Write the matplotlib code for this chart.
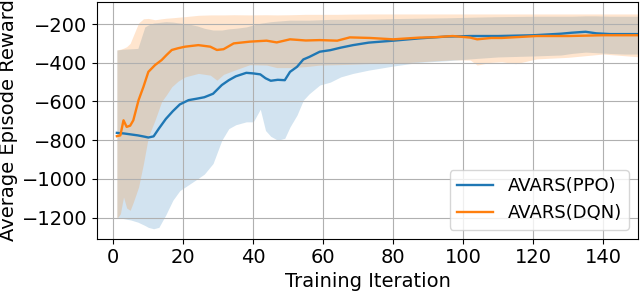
import numpy as np
import matplotlib
matplotlib.use("Agg")
from matplotlib import pyplot as plt

# AVARS(PPO) - mean and spread
ppo_x = [1, 3, 5, 7, 9, 10, 11.5, 13, 15, 17, 19, 21.5, 24, 26, 28.5, 31, 33, 35, 38, 40,
         42, 43.5, 45, 47, 49, 50.5, 52.5, 54.3, 56, 59, 62, 65, 68.5, 73, 80, 87.5, 95,
         102, 110, 120, 128, 131, 135, 138, 142, 146, 150]
ppo_mean = [-762, -765, -770, -775, -782, -786, -780, -740, -690, -650, -615, -593, -585,
            -578, -560, -515, -490, -470, -452, -455, -460, -480, -493, -488, -490, -447,
            -421, -383, -370, -343, -335, -322, -309, -296, -286, -274, -265, -262, -262,
            -258, -250, -245, -240, -248, -252, -252, -252]
ppo_lo = [-1197, -1205, -1212, -1223, -1240, -1250, -1257, -1250, -1185, -1110, -1060,
          -1030, -1000, -975, -920, -800, -740, -720, -705, -705, -640, -750, -780, -800,
          -790, -731, -670, -593, -560, -515, -500, -473, -455, -438, -417, -398, -390,
          -380, -370, -365, -360, -352, -345, -348, -352, -355, -355]
ppo_hi = [-334, -330, -328, -326, -215, -205, -195, -192, -188, -190, -195, -200, -210,
          -222, -231, -231, -225, -222, -215, -205, -196, -192, -188, -185, -182, -180,
          -180, -180, -180, -178, -176, -176, -175, -175, -172, -170, -168, -165, -162,
          -160, -160, -160, -158, -158, -160, -160, -160]

# AVARS(DQN) - mean and spread
dqn_x = [1, 2, 2.9, 3.8, 4.8, 5.7, 7.2, 8.6, 10, 11.9, 13.8, 15.2, 16.7, 18.5, 20.5, 24.3,
         27.7, 29.6, 31.5, 34.4, 39, 43.8, 46.7, 50.5, 55, 59, 64, 67.6, 73.4, 80, 87.6,
         92, 97, 102, 104, 108, 111, 115, 121, 130, 140, 150]
dqn_mean = [-779, -775, -697, -731, -725, -697, -593, -524, -447, -412, -386, -360, -334,
            -325, -317, -309, -317, -334, -330, -300, -291, -286, -295, -279, -285, -283,
            -286, -269, -272, -279, -270, -268, -262, -270, -279, -272, -272, -268, -262,
            -262, -258, -258]
dqn_lo = [-1205, -1180, -1093, -1150, -1162, -1120, -1042, -921, -783, -697, -600, -565,
          -524, -495, -473, -455, -464, -490, -460, -440, -410, -412, -425, -425, -420,
          -412, -410, -408, -404, -404, -395, -390, -385, -386, -412, -398, -395, -405,
          -380, -372, -355, -369]
dqn_hi = [-334, -330, -325, -317, -300, -260, -195, -173, -171, -178, -173, -170, -168,
          -165, -162, -155, -153, -153, -153, -152, -153, -152, -153, -152, -150, -150,
          -150, -149, -148, -148, -148, -148, -148, -148, -148, -148, -148, -148, -148,
          -148, -148, -148]

plt.rcParams['font.size'] = 14
fig = plt.figure(figsize=(6.4, 2.91), dpi=100)
ax = fig.add_axes([0.152, 0.180, 0.845, 0.814])

ax.plot(ppo_x, ppo_mean, color='C0', lw=1.7, label='AVARS(PPO)')
ax.fill_between(ppo_x, ppo_lo, ppo_hi, color='C0', alpha=0.2, lw=0)
ax.plot(dqn_x, dqn_mean, color='C1', lw=1.7, label='AVARS(DQN)')
ax.fill_between(dqn_x, dqn_lo, dqn_hi, color='C1', alpha=0.2, lw=0)

ax.set_xlim(-4.6, 150)
ax.set_ylim(-1308, -85)
ax.set_yticks([-1200, -1000, -800, -600, -400, -200])
ax.set_xlabel('Training Iteration', labelpad=3)
ax.set_ylabel('Average Episode Reward', labelpad=3)
ax.grid(True)
ax.legend(loc='lower right', fontsize=13)

fig.savefig('out.png', dpi=100)
